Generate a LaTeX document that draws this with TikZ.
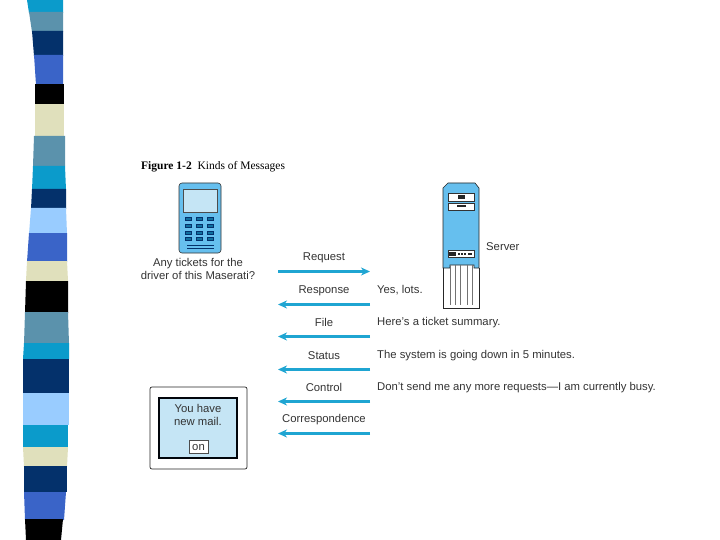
\documentclass[tikz,border=0pt]{standalone}
\usepackage{fontspec}
\usetikzlibrary{arrows.meta}
\setmainfont{Liberation Sans}
\newfontfamily\titlefont{Liberation Serif}
\definecolor{cyanband}{HTML}{0B9BCB}
\definecolor{greyband}{HTML}{5B92AC}
\definecolor{navyband}{HTML}{04316B}
\definecolor{blueband}{HTML}{3A64C8}
\definecolor{beigeband}{HTML}{E0E0BC}
\definecolor{skyband}{HTML}{99CCFF}
\definecolor{msgarrow}{HTML}{1FA5D2}
\definecolor{devicefill}{HTML}{66BFEE}
\definecolor{screenfill}{HTML}{C5E5F5}
\definecolor{devicekey}{HTML}{0F6F9F}
\tikzset{
    msglabel/.style={font=\fontsize{11.3}{13}\selectfont, text=black!80, inner sep=0pt},
    msgtext/.style={msglabel, anchor=west},
    msgline/.style={-{Stealth[length=9pt,width=8pt]}, draw=msgarrow, line width=2.05pt},
    slot/.style={draw=black!80, fill=white, line width=0.5pt}
}
\begin{document}
\begin{tikzpicture}[x=1pt, y=-1pt]

        \useasboundingbox (0,0) rectangle (720,540);

        % Striped band on the left edge
        \foreach \lefta/\righta/\topy/\leftb/\rightb/\boty/\bandcol in {
            27/63/0/29/63/13/cyanband, 29/63/12/32/63/32/greyband,
            32/63/31/34/63/56/navyband, 34/63/55/36/63/85/blueband,
            35/64/84/35/64/105/black, 35/64/104/35/64/136/beigeband,
            34/65/136/33/65/166/greyband, 33/65/166/32/66/190/cyanband,
            32/66/189/31/66/209/navyband, 31/66/208/29/67/234/skyband,
            29/67/233/27/67/262/blueband, 27/67/261/26/68/281/beigeband,
            26/68/281/25/68/313/black, 25/68/312/24/69/344/greyband,
            24/69/343/23/69/359/cyanband, 23/69/359/23/69/395/navyband,
            23/69/393/23/69/425/skyband, 23/68/425/23/68/448/cyanband,
            23/68/447/24/67/467/beigeband, 24/67/466/24/67/492/navyband,
            24/66/492/25/64/520/blueband, 25/63/519/26/61/540/black}{
            \fill[\bandcol] (\lefta,\topy) -- (\righta,\topy) -- (\rightb,\boty) -- (\leftb,\boty) -- cycle;
        }

        % Title
        \node[anchor=west, inner sep=0pt, font=\titlefont\fontsize{11.5}{13}\selectfont] (title) at (141,166.5)
            {\textbf{Figure 1-2}\hspace{0.5em}Kinds of Messages};

        % Phone
        \draw[black!80, fill=devicefill, rounded corners=3pt, line width=0.6pt] (179,183) rectangle (221,253);
        \draw[black!70, fill=screenfill, line width=0.5pt] (183,189) rectangle (217,212);
        \foreach \keyx in {185,196,207}{
            \foreach \keyy in {217,224,231,237}{
                \fill[navyband] (\keyx,\keyy) rectangle +(7,4);
                \fill[devicekey] (\keyx+1,\keyy+1) rectangle +(5,2);
            }
        }
        \fill[navyband] (187,245) rectangle (214,246);
        \fill[navyband] (187,248) rectangle (214,249);
        \node[msglabel, align=center] (query) at (198,268.5) {Any tickets for the\\driver of this Maserati?};

        % Server
        \fill[white] (443,188) rectangle (479,308);
        \draw[black!85, fill=devicefill, line width=0.6pt] (443,268) -- (443,188) -- (448,183) -- (475,183) -- (479,188) -- (479,268)
            -- (474,268) -- (474,265) -- (450,265) -- (450,268) -- cycle;
        \draw[black!85, line width=0.7pt] (443,268) -- (443,308) -- (479,308) -- (479,268);
        \foreach \barx in {450,455,460,467,472}{
            \draw[black!55, line width=0.4pt] (\barx,265) -- (\barx,305);
        }
        \draw[slot] (448,193) rectangle (474,201);
        \fill[black!85] (458,195.5) rectangle (465,199);
        \draw[slot] (448,203) rectangle (474,210);
        \fill[black!85] (457,205.5) rectangle (466,207.5);
        \draw[slot] (448,250) rectangle (474,257);
        \fill[black!85] (449,252) rectangle (456,255.5);
        \foreach \ledx in {458,461,464}{
            \fill[black!85] (\ledx,252.5) rectangle +(1.8,2.5);
        }
        \fill[black!85] (468,253) rectangle (472,254.5);
        \node[msgtext] (server) at (486,246.5) {Server};

        % Mail terminal
        \draw[black!85, fill=white, rounded corners=2pt, line width=0.7pt] (150,387) rectangle (247,469);
        \draw[black!90!navyband, fill=screenfill, line width=2.3pt] (159,398) rectangle (237,458);
        \node[msglabel, align=center] (mail) at (198,415) {You have\\new mail.};
        \draw[black!70, fill=white, line width=0.5pt] (189,440) rectangle (208,453);
        \node[msglabel] (onkey) at (198.5,447.5) {on};

        % Message kinds, label above the line
        \foreach \msgname/\msgy/\msgword in {req/257/Request, resp/290/Response, file/322/File,
            stat/355/Status, ctrl/387/Control, corr/419/Correspondence}{
            \node[msglabel] (\msgname) at (324,\msgy+0.5) {\msgword};
            \coordinate (\msgname a) at (278,\msgy+14.5);
            \coordinate (\msgname b) at (370,\msgy+14.5);
        }
        \draw[msgline] (reqa) -- (reqb);
        \foreach \msgname in {resp,file,stat,ctrl,corr}{
            \draw[msgline] (\msgname b) -- (\msgname a);
        }

        % Sample messages
        \node[msgtext] (yes) at (377,290.5) {Yes, lots.};
        \node[msgtext] (ticket) at (377,322.5) {Here's a ticket summary.};
        \node[msgtext] (down) at (377,355.5) {The system is going down in 5 minutes.};
        \node[msgtext] (busy) at (377,387.5) {Don't send me any more requests---I am currently busy.};

    \end{tikzpicture}
\end{document}
